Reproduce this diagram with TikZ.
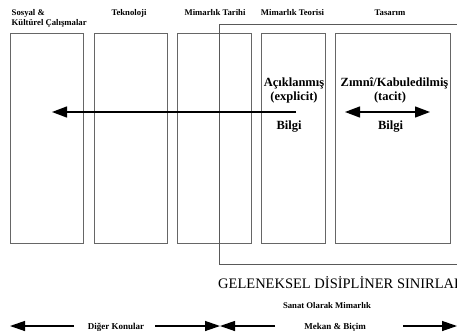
\documentclass[tikz,border=0pt]{standalone}
\usepackage{fontspec}
\setmainfont{Liberation Serif}
\usetikzlibrary{arrows.meta}
\begin{document}
\begin{tikzpicture}[x=1pt,y=-1pt,
  box/.style={draw=black!60, line width=0.9pt, inner sep=0pt, anchor=north west},
  bracket/.style={draw=black!65, line width=0.9pt},
  lbl/.style={font=\fontsize{8.7}{10}\selectfont\bfseries, inner sep=0pt, anchor=base},
  bot/.style={font=\fontsize{9}{11}\selectfont\bfseries, inner sep=0pt, anchor=base},
  big/.style={font=\fontsize{12.5}{14}\selectfont\bfseries, inner sep=0pt, anchor=base},
  arr/.style={line width=1.3pt, -{Triangle[length=15pt,width=11pt]}},
  darr/.style={line width=1.3pt, {Triangle[length=15pt,width=11pt]}-{Triangle[length=15pt,width=11pt]}},
  barr/.style={line width=1.3pt, -{Triangle[length=15pt,width=10pt]}},
]
\useasboundingbox (0,0) rectangle (457,335);
% boxes
\node[box, minimum width=73pt, minimum height=210pt] (b1) at (10,33) {};
\node[box, minimum width=73pt, minimum height=210pt] (b2) at (94,33) {};
\node[box, minimum width=74pt, minimum height=210pt] (b3) at (177,33) {};
\node[box, minimum width=64pt, minimum height=210pt] (b4) at (261,33) {};
\node[box, minimum width=115pt, minimum height=210pt] (b5) at (335,33) {};
% bracket
\coordinate (bt) at (460,24);
\coordinate (btl) at (219,24);
\coordinate (bbl) at (219,264);
\coordinate (bb) at (460,264);
\draw[bracket] (bt) -- (btl) -- (bbl) -- (bb);
% top labels
\node[lbl, anchor=base west] (l1a) at (11.5,15) {Sosyal \&};
\node[lbl, anchor=base west] (l1b) at (11.5,25.5) {Kültürel Çalışmalar};
\node[lbl] (l2) at (129,15) {Teknoloji};
\node[lbl] (l3) at (215,15) {Mimarlık Tarihi};
\node[lbl] (l4) at (292.5,15) {Mimarlık Teorisi};
\node[lbl] (l5) at (390,15) {Tasarım};
% middle texts
\node[big] (ac) at (294,86.5) {Açıklanmış};
\node[big] (ex) at (294,100) {(explicit)};
\node[big] (bg1) at (289,129) {Bilgi};
\node[big] (zm) at (394.5,86.5) {Zımnî/Kabuledilmiş};
\node[big] (tc) at (390,100) {(tacit)};
\node[big] (bg2) at (390.5,129) {Bilgi};
% arrows
\coordinate (a1s) at (296,112);
\coordinate (a1e) at (52,112);
\draw[arr] (a1s) -- (a1e);
\coordinate (a2s) at (345,112);
\coordinate (a2e) at (430,112);
\draw[darr] (a2s) -- (a2e);
% bottom
\node[font=\fontsize{14.5}{16}\selectfont, inner sep=0pt, anchor=base west] (gel) at (218,288) {GELENEKSEL DİSİPLİNER SINIRLARI};
\node[lbl] (san) at (327,308) {Sanat Olarak Mimarlık};
\node[bot] (dk) at (116,329) {Diğer Konular};
\node[bot] (mb) at (335,329) {Mekan \& Biçim};
\coordinate (c1) at (74,326);
\coordinate (c2) at (10,326);
\coordinate (c3) at (155,326);
\coordinate (c4) at (220,326);
\coordinate (c5) at (275,326);
\coordinate (c6) at (403,326);
\coordinate (c7) at (457,326);
\draw[barr] (c1) -- (c2);
\draw[barr] (c3) -- (c4);
\draw[barr] (c5) -- (c4);
\draw[barr] (c6) -- (c7);
\end{tikzpicture}
\end{document}
